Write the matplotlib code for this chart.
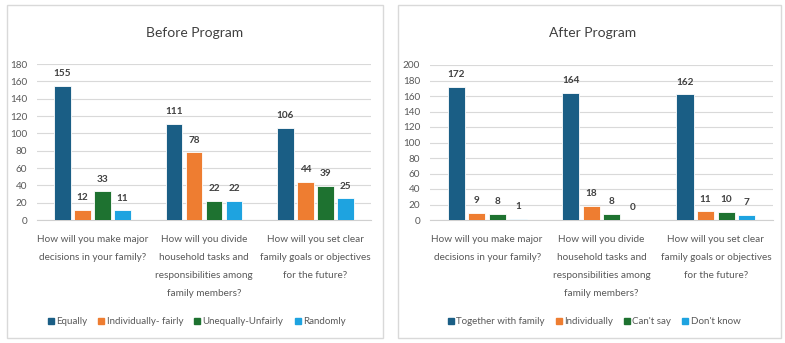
import matplotlib
matplotlib.use("Agg")
import matplotlib.pyplot as plt
import numpy as np
from matplotlib.patches import Rectangle
from matplotlib.lines import Line2D

plt.rcParams['font.family'] = ['Lato', 'DejaVu Sans']

categories = ["How will you make major\ndecisions in your family?",
              "How will you divide\nhousehold tasks and\nresponsibilities among\nfamily members?",
              "How will you set clear\nfamily goals or objectives\nfor the future?"]

before_series = ["Equally", "Individually- fairly", "Unequally-Unfairly", "Randomly"]
before_values = [[155, 111, 106], [12, 78, 44], [33, 22, 39], [11, 22, 25]]

after_series = ["Together with family", "Individually", "Can't say", "Don't know"]
after_values = [[172, 164, 162], [9, 18, 11], [8, 8, 10], [1, 0, 7]]

colors = ['#1a5e85', '#ee7d31', '#1e7230', '#1ea3e0']

W, H = 785, 343
fig = plt.figure(figsize=(W / 100, H / 100), dpi=100)
fig.patch.set_facecolor('white')

def fx(px):
    return px / W

def fy(py):
    return 1 - py / H

# panel borders
for (x0, x1) in [(7, 383), (398, 781)]:
    fig.patches.append(Rectangle((fx(x0), fy(338)), fx(x1 - x0), (338 - 5) / H,
                                 transform=fig.transFigure, fill=False,
                                 edgecolor='#d9d9d9', linewidth=1.0))

def panel(x0, x1, ytop, ymax, title, tx, series, values, legend_span, colsp):
    ax = fig.add_axes([fx(x0), fy(220), fx(x1 - x0), (220 - ytop) / H])
    x = np.arange(len(categories))
    step = 0.18
    width = 0.15
    for i, (name, vals) in enumerate(zip(series, values)):
        pos = x + (i - 1.5) * step
        bars = ax.bar(pos, vals, width=width, color=colors[i], edgecolor='white',
                      linewidth=0.6, label=name, zorder=3)
        for b, v in zip(bars, vals):
            ax.text(b.get_x() + b.get_width() / 2, v + ymax * 0.05, str(v),
                    ha='center', va='bottom', fontsize=7.2, color='#404040', fontweight='bold')
    ax.set_xlim(-0.5, len(categories) - 0.5)
    ax.set_ylim(0, ymax)
    ax.set_yticks(np.arange(0, ymax + 1, 20))
    ax.tick_params(axis='y', length=0, labelsize=7.2, labelcolor='#595959', pad=7)
    ax.set_xticks(x)
    ax.set_xticklabels(categories, fontsize=7.2, color='#595959', linespacing=2.25, va='top')
    ax.tick_params(axis='x', length=0, pad=11)
    ax.grid(axis='y', color='#d9d9d9', linewidth=0.8, zorder=0)
    for s in ['top', 'right', 'left']:
        ax.spines[s].set_visible(False)
    ax.spines['bottom'].set_color('#d0d0d0')
    ax.set_axisbelow(True)
    fig.text(fx(tx), fy(33), title, ha='center', va='center', fontsize=10, color='#404040')
    handles = [Line2D([0], [0], marker='s', linestyle='none', markersize=4.5,
                      markerfacecolor=c, markeredgecolor=c) for c in colors]
    cx = (legend_span[0] + legend_span[1]) / 2
    leg = fig.legend(handles, series, loc='center', bbox_to_anchor=(fx(cx), fy(322)),
                     ncol=4, frameon=False, fontsize=7, handlelength=0.5,
                     handletextpad=0.3, columnspacing=colsp, borderaxespad=0,
                     borderpad=0)
    for t in leg.get_texts():
        t.set_color('#595959')
    return ax

panel(37, 371, 64, 180, "Before Program", 195, before_series, before_values, (53, 341), 1.2)
panel(430, 773, 65, 200, "After Program", 593, after_series, after_values, (452, 737), 1.2)

fig.savefig('out.png', dpi=100, facecolor='white')
